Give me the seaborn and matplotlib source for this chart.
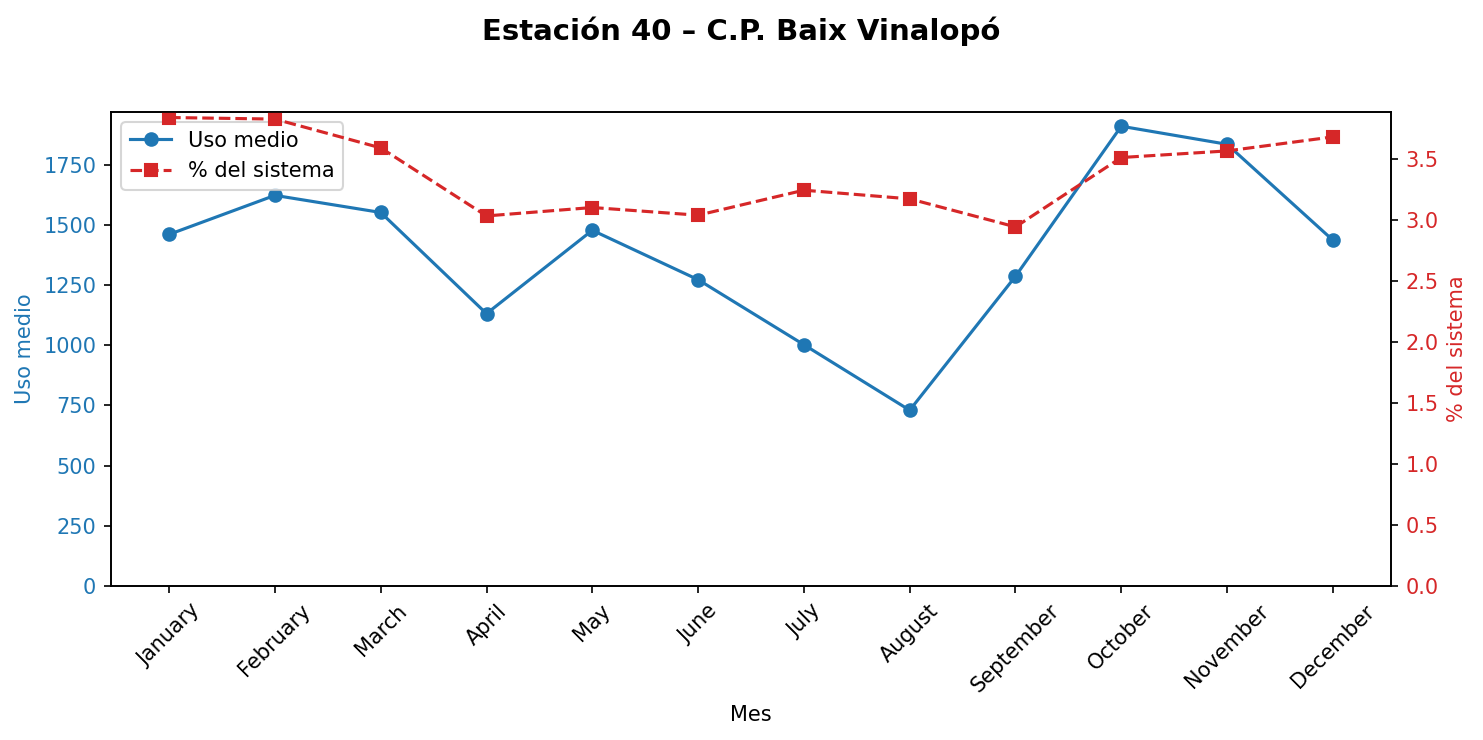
"""Uso medio mensual y % del sistema — Estación 40"""

import numpy as np
import pandas as pd
import matplotlib
matplotlib.use('Agg')
import matplotlib.pyplot as plt
import seaborn as sns

meses = ['January', 'February', 'March', 'April', 'May', 'June', 'July',
         'August', 'September', 'October', 'November', 'December']
uso_medio = [1460, 1622, 1551, 1131, 1477, 1272, 1002, 730, 1286, 1909, 1834, 1436]
pct_sistema = [3.842, 3.829, 3.593, 3.035, 3.104, 3.041, 3.246, 3.175, 2.945,
               3.514, 3.568, 3.683]

df = pd.DataFrame({'Mes': meses, 'uso': uso_medio, 'pct': pct_sistema})

azul = 'tab:blue'
rojo = 'tab:red'

fig, ax = plt.subplots(figsize=(1483 / 150, 740 / 150), dpi=150)
fig.subplots_adjust(left=0.0748, right=0.938, top=0.8486, bottom=0.208)

# eje izquierdo: uso medio
sns.lineplot(data=df, x='Mes', y='uso', ax=ax, color=azul, marker='o',
             markersize=6, markeredgecolor=azul, markeredgewidth=1,
             linewidth=1.5, label='Uso medio', sort=False)
ax.set_ylim(bottom=0)
ax.set_ylabel('Uso medio', color=azul)
ax.tick_params(axis='y', labelcolor=azul)
ax.set_xlabel('Mes')
ax.tick_params(axis='x', labelrotation=45)

# eje derecho: % del sistema
ax2 = ax.twinx()
sns.lineplot(data=df, x='Mes', y='pct', ax=ax2, color=rojo, marker='s',
             markersize=6, markeredgecolor=rojo, markeredgewidth=1,
             linewidth=1.5, linestyle='--', label='% del sistema', sort=False)
ax2.set_ylim(bottom=0)
ax2.set_ylabel('% del sistema', color=rojo)
ax2.tick_params(axis='y', labelcolor=rojo)

# leyenda combinada (en el eje izquierdo, queda debajo de la línea roja)
h1, l1 = ax.get_legend_handles_labels()
h2, l2 = ax2.get_legend_handles_labels()
if ax2.get_legend() is not None:
    ax2.get_legend().remove()
ax.legend(h1 + h2, l1 + l2, loc='upper left')

fig.suptitle('Estación 40 – C.P. Baix Vinalopó', fontsize=14,
             fontweight='bold', y=0.978)

fig.savefig('out.png', dpi=150)
